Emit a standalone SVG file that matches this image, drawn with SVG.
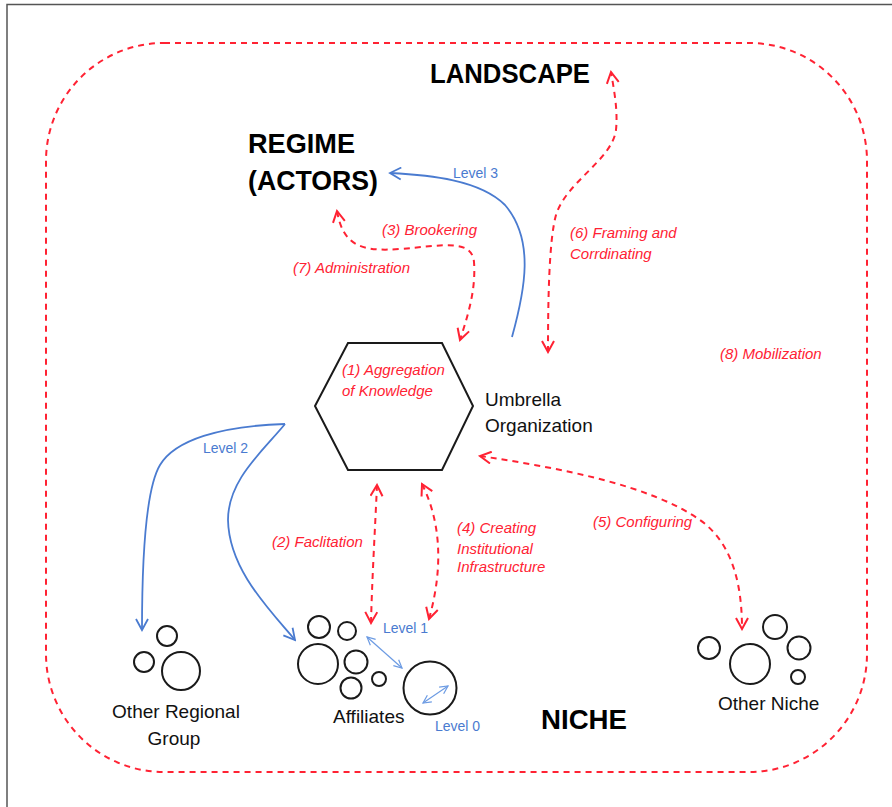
<svg xmlns="http://www.w3.org/2000/svg" width="892" height="807" viewBox="0 0 892 807">
<style>
.red{fill:none;stroke:#FF2233;stroke-width:2;stroke-dasharray:6 5}
.blue{fill:none;stroke:#4A7BD0;stroke-width:1.8}
.lb{fill:none;stroke:#6C9BE3;stroke-width:1.2}
.node{fill:none;stroke:#1a1a1a;stroke-width:2}
.t{font-family:"Liberation Sans",Arial,sans-serif}
.title{font-family:"Liberation Sans",Arial,sans-serif;font-weight:bold;fill:#000}
.rl{font-family:"Liberation Sans",Arial,sans-serif;font-style:italic;font-size:15px;fill:#FF2233}
.bl{font-family:"Liberation Sans",Arial,sans-serif;font-size:14px;fill:#4A7BD0}
.kl{font-family:"Liberation Sans",Arial,sans-serif;font-size:19px;fill:#111}
</style>
<defs>
<marker id="rh" viewBox="0 0 14 14" refX="12" refY="7" markerWidth="14" markerHeight="14" orient="auto-start-reverse" markerUnits="userSpaceOnUse">
<path d="M1,1 L12,7 L1,13" fill="none" stroke="#FF2233" stroke-width="2"/>
</marker>
<marker id="bh" viewBox="0 0 14 14" refX="12" refY="7" markerWidth="14" markerHeight="14" orient="auto-start-reverse" markerUnits="userSpaceOnUse">
<path d="M1,1 L12,7 L1,13" fill="none" stroke="#4A7BD0" stroke-width="1.8"/>
</marker>
<marker id="sh" viewBox="0 0 10 10" refX="9" refY="5" markerWidth="10" markerHeight="10" orient="auto-start-reverse" markerUnits="userSpaceOnUse">
<path d="M1,1 L9,5 L1,9" fill="none" stroke="#6C9BE3" stroke-width="1.2"/>
</marker>
</defs>
<rect width="892" height="807" fill="#fff"/>
<g id="frame">
<path d="M7,807 L7,4.5 L892,4.5" fill="none" stroke="#555" stroke-width="1.5"/>
<rect x="46" y="43" width="821" height="729" rx="118" ry="118" class="red"/>
</g>
<g id="titles">
<text class="title" x="430" y="83" font-size="27" textLength="160" lengthAdjust="spacingAndGlyphs">LANDSCAPE</text>
<text class="title" x="248" y="153" font-size="28" textLength="107" lengthAdjust="spacingAndGlyphs">REGIME</text>
<text class="title" x="248" y="190" font-size="28" textLength="130" lengthAdjust="spacingAndGlyphs">(ACTORS)</text>
<text class="title" x="541" y="729" font-size="27" textLength="86" lengthAdjust="spacingAndGlyphs">NICHE</text>
</g>
<g id="connectors">
<path class="red" d="M548,352 C548,300 549,240 556,215 C566,182 612,160 616,130 C618,110 614,90 611,72" marker-start="url(#rh)" marker-end="url(#rh)"/>
<path class="red" d="M337,211 C343,245 360,252 400,249 C440,246 472,238 474,262 C476,290 468,315 460,340" marker-start="url(#rh)" marker-end="url(#rh)"/>
<path class="blue" d="M512,337 C525,290 535,240 505,205 C480,180 430,175 390,173" marker-end="url(#bh)"/>
<path class="red" d="M480,456 C560,468 650,485 700,520 C735,545 742,590 742,629" marker-start="url(#rh)" marker-end="url(#rh)"/>
<path class="red" d="M377,485 C375,530 372,580 371,623" marker-start="url(#rh)" marker-end="url(#rh)"/>
<path class="red" d="M422,484 C445,530 440,580 429,619" marker-start="url(#rh)" marker-end="url(#rh)"/>
<path class="blue" d="M285,424 C220,426 175,440 160,465 C145,490 142,560 142,630" marker-end="url(#bh)"/>
<path class="blue" d="M285,424 C262,452 228,480 228,520 C229,570 270,610 295,640" marker-end="url(#bh)"/>
<path class="lb" d="M367,637 L402,668" marker-start="url(#sh)" marker-end="url(#sh)"/>
<path class="lb" d="M423,703 L448,686" marker-start="url(#sh)" marker-end="url(#sh)"/>
</g>
<g id="labels">
<text class="bl" x="453" y="178">Level 3</text>
<text class="bl" x="203" y="453">Level 2</text>
<text class="bl" x="383" y="633">Level 1</text>
<text class="bl" x="435" y="731">Level 0</text>
<text class="rl" x="382" y="235">(3) Brookering</text>
<text class="rl" x="293" y="273">(7) Administration</text>
<text class="rl" x="570" y="238">(6) Framing and</text>
<text class="rl" x="570" y="259">Corrdinating</text>
<text class="rl" x="720" y="359">(8) Mobilization</text>
<text class="rl" x="272" y="547">(2) Faclitation</text>
<text class="rl" x="457" y="533">(4) Creating</text>
<text class="rl" x="457" y="554">Institutional</text>
<text class="rl" x="457" y="572">Infrastructure</text>
<text class="rl" x="593" y="527">(5) Configuring</text>
</g>
<g id="umbrella">
<polygon class="node" points="348,343 442,343 473,406 442,470 348,470 315,406"/>
<text class="rl" x="342" y="375">(1) Aggregation</text>
<text class="rl" x="342" y="396">of Knowledge</text>
<text class="kl" x="485" y="406">Umbrella</text>
<text class="kl" x="485" y="432">Organization</text>
</g>
<g id="other-regional-group">
<circle class="node" cx="167" cy="636" r="10"/>
<circle class="node" cx="144" cy="662" r="10"/>
<circle class="node" cx="181" cy="671" r="19"/>
<text class="kl" x="176" y="718" text-anchor="middle">Other Regional</text>
<text class="kl" x="174" y="745" text-anchor="middle">Group</text>
</g>
<g id="affiliates">
<circle class="node" cx="319" cy="627" r="11"/>
<circle class="node" cx="347" cy="631" r="9"/>
<circle class="node" cx="318" cy="664" r="20"/>
<circle class="node" cx="356" cy="662" r="11.5"/>
<circle class="node" cx="351" cy="688" r="10.5"/>
<circle class="node" cx="379" cy="679" r="7"/>
<circle class="node" cx="430" cy="688" r="26.5"/>
<text class="kl" x="333" y="723">Affiliates</text>
</g>
<g id="other-niche">
<circle class="node" cx="709" cy="648" r="11"/>
<circle class="node" cx="775" cy="627" r="12"/>
<circle class="node" cx="799" cy="648" r="11.5"/>
<circle class="node" cx="750" cy="664" r="20"/>
<circle class="node" cx="798" cy="677" r="7"/>
<text class="kl" x="718" y="710">Other Niche</text>
</g>
</svg>
